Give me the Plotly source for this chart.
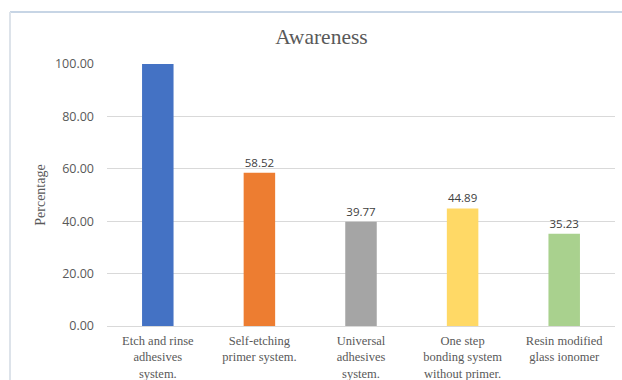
import plotly.graph_objects as go

categories = [
    "Etch and rinse<br>adhesives<br>system.",
    "Self-etching<br>primer system.",
    "Universal<br>adhesives<br>system.",
    "One step<br>bonding system<br>without primer.",
    "Resin modified<br>glass ionomer",
]
values = [100.00, 58.52, 39.77, 44.89, 35.23]
labels = ["", "58.52", "39.77", "44.89", "35.23"]
colors = ["#4472C4", "#ED7D31", "#A5A5A5", "#FFD966", "#A9D18E"]
y_ticks = [0, 20, 40, 60, 80, 100]

W, H = 622, 380
L, R, T, B = 107, 7, 64, 54
pw, ph = W - L - R, H - T - B

def px_x(x):
    return (x - L) / pw

def px_y(y):
    return (H - B - y) / ph

SERIF = "Liberation Serif, Times New Roman, serif"
SANS = "Open Sans, Liberation Sans, sans-serif"

fig = go.Figure(go.Bar(
    x=categories, y=values, marker=dict(color=colors, line=dict(width=0)),
    text=labels, textposition="outside", cliponaxis=False,
    textfont=dict(family=SANS, size=11.5, color="#404040"),
    width=0.31,
))

fig.update_layout(
    width=W, height=H, margin=dict(l=L, r=R, t=T, b=B, autoexpand=False),
    paper_bgcolor="white", plot_bgcolor="white", showlegend=False,
    title=dict(text="Awareness", x=321.5 / W, xanchor="center", xref="container",
               y=1 - 36 / H, yanchor="middle", yref="container",
               font=dict(family=SERIF, size=21.5, color="#595959")),
    xaxis=dict(showgrid=False, showline=True, linecolor="#d9d9d9", linewidth=1,
               tickfont=dict(family=SERIF, size=12.5, color="#595959"),
               ticks="", ticklabelstandoff=3, automargin=False),
    yaxis=dict(range=[0, 100], tickvals=y_ticks, tickformat=".2f",
               showgrid=True, gridcolor="#d9d9d9", gridwidth=1, zeroline=False,
               tickfont=dict(family=SANS, size=12.5, color="#595959"),
               ticklabelstandoff=12, automargin=False,
               title=dict(text="Percentage", standoff=6,
                          font=dict(family=SERIF, size=14, color="#595959"))),
    shapes=[
        dict(type="line", xref="paper", yref="paper", x0=px_x(10), x1=px_x(W + 5), y0=px_y(12), y1=px_y(12),
             line=dict(color="#b4c7dc", width=1.5)),
        dict(type="line", xref="paper", yref="paper", x0=px_x(10), x1=px_x(10), y0=px_y(12), y1=px_y(H + 5),
             line=dict(color="#dde3ea", width=2)),
    ],
)

fig.write_html("out.html")
